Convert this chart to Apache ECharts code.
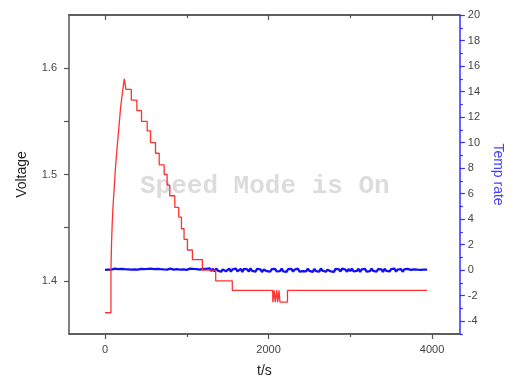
<!DOCTYPE html>
<html>
<head>
<meta charset="utf-8">
<script src="https://cdn.jsdelivr.net/npm/echarts@6/dist/echarts.min.js"></script>
<style>html,body{margin:0;padding:0;background:#fff}#c{width:513px;height:384px}</style>
</head>
<body>
<div id="c"></div>
<script>
// Voltage (step trace): time in s, voltage in V (each value holds until next time)
var voltTimes = [0, 73, 80, 89, 100, 115, 130, 150, 171, 191, 215, 236, 256, 322, 390, 447, 516, 557, 618, 663, 724, 760, 793, 854, 902, 935, 967, 1008, 1069, 1191, 1354, 1557, 2052, 2068, 2082, 2100, 2112, 2128, 2140, 2232, 3940];
var voltValues = [1.370, 1.410, 1.435, 1.455, 1.472, 1.490, 1.508, 1.527, 1.545, 1.563, 1.578, 1.590, 1.580, 1.570, 1.560, 1.550, 1.541, 1.530, 1.520, 1.509, 1.500, 1.490, 1.480, 1.469, 1.460, 1.449, 1.439, 1.429, 1.420, 1.410, 1.400, 1.391, 1.380, 1.391, 1.380, 1.391, 1.380, 1.391, 1.380, 1.391, 1.391];

// Temp rate samples, one every 20 s starting at t = 0
var tempStart = 0, tempStep = 20;
var tempValues = [
  0.02, 0.08, 0.04, 0.10, 0.05, 0.07, 0.12, 0.04, 0.09, 0.06, 0.11, 0.05, 0.08, 0.13, 0.06, 0.09,
  0.04, 0.10, 0.07, 0.12, 0.05, 0.08, 0.11, 0.06, 0.09, 0.03, 0.10, 0.07, 0.12, 0.05, 0.09, 0.06,
  0.11, 0.04, 0.08, 0.13, 0.06, 0.10, 0.05, 0.09, 0.12, 0.07, 0.04, 0.10, 0.08, 0.13, 0.05, 0.09,
  0.06, 0.11, 0.03, 0.08, 0.12, 0.06, 0.10, 0.04, 0.09, 0.13, 0.05, 0.08, 0.11, 0.06, 0.10, 0.04,
  0.15, -0.06, 0.11, -0.10, 0.13, -0.03, 0.09, -0.12, 0.05, 0.15, -0.08, 0.02, 0.12, -0.11, 0.07, -0.04,
  0.13, -0.09, 0.03, 0.10, -0.13, 0.11, -0.02, 0.06, -0.10, 0.14, -0.06, 0.03, -0.12, 0.10, -0.01, 0.07,
  -0.14, 0.05, 0.12, -0.08, 0.01, -0.12, 0.09, -0.05, 0.11, -0.10, 0.04, -0.07, 0.13, -0.09, 0.02, -0.13,
  0.08, -0.03, 0.10, -0.11, 0.05, -0.06, 0.12, -0.12, 0.03, -0.08, 0.07, -0.10, 0.12, -0.05, 0.01, -0.13,
  0.09, -0.07, 0.06, -0.11, 0.14, -0.04, 0.08, -0.12, 0.04, 0.11, -0.09, 0.02, -0.13, 0.10, -0.05, 0.07,
  -0.10, 0.12, -0.03, 0.05, -0.12, 0.09, -0.07, 0.13, -0.10, 0.03, -0.06, 0.11, -0.13, 0.06, -0.02, 0.10,
  -0.11, 0.04, -0.08, 0.12, -0.06, 0.02, -0.12, 0.09, -0.04, 0.07, -0.13, 0.11, -0.05, 0.03, -0.10, 0.08,
  -0.07, 0.12, -0.11, 0.05, -0.03, 0.09, -0.12, 0.06, -0.08, 0.10, -0.05, 0.02, -0.11, 0.07, -0.04, 0.04,
  -0.06, 0.03, -0.05, 0.05, -0.03, 0.04];

// Axis tick values / labels
var xMajor = [0, 2000, 4000];
var xMinor = [1000, 3000];
var vTicks = [1.4, 1.45, 1.5, 1.55, 1.6];
var vLabels = [1.4, 1.5, 1.6];
var rMajor = [-4, -2, 0, 2, 4, 6, 8, 10, 12, 14, 16, 18, 20];
var rMinor = [-5, -3, -1, 1, 3, 5, 7, 9, 11, 13, 15, 17, 19];

var voltData = voltTimes.map(function (t, i) { return [t, voltValues[i]]; });
var tempData = tempValues.map(function (v, i) { return [tempStart + i * tempStep, v]; });

var gray = '#555';
var labelColor = '#444';
var blue = '#3333ff';
var font = 'Liberation Sans, Arial, sans-serif';

function xAx(pos, ticks, len, inside, labels, name) {
  return {
    type: 'value', position: pos, min: -440, max: 4340,
    name: name || '', nameLocation: 'middle', nameGap: 30,
    nameTextStyle: { fontFamily: font, fontSize: 14, color: '#222' },
    axisLine: { show: true, onZero: false, lineStyle: { color: gray, width: 1.5 } },
    axisTick: { show: true, inside: inside, length: len, customValues: ticks, lineStyle: { color: gray, width: 1.2 } },
    axisLabel: labels ? { show: true, customValues: labels, color: labelColor, fontSize: 11, fontFamily: font, margin: 10,
      formatter: function (v) { return String(v); } } : { show: false },
    splitLine: { show: false }
  };
}

var chart = echarts.init(document.getElementById('c'));
chart.setOption({
  animation: false,
  backgroundColor: '#fff',
  grid: { left: 69, right: 52, top: 15, bottom: 50 },
  xAxis: [
    xAx('bottom', xMajor, 5, false, xMajor, 't/s'),
    xAx('bottom', xMinor, 3, false, null),
    xAx('top', xMajor, 5, true, null),
    xAx('top', xMinor, 3, true, null)
  ],
  yAxis: [
    {
      type: 'value', position: 'left', min: 1.35, max: 1.65,
      name: 'Voltage', nameLocation: 'middle', nameGap: 40,
      nameTextStyle: { fontFamily: font, fontSize: 14, color: '#222' },
      axisLine: { show: true, onZero: false, lineStyle: { color: gray, width: 1.5 } },
      axisTick: { show: true, length: 5, customValues: vTicks, lineStyle: { color: gray, width: 1.2 } },
      axisLabel: { customValues: vLabels, color: labelColor, fontSize: 11, fontFamily: font, margin: 12,
        formatter: function (v) { return v.toFixed(1); } },
      splitLine: { show: false }
    },
    {
      type: 'value', position: 'right', min: -5, max: 20,
      name: 'Temp rate', nameLocation: 'middle', nameGap: 30, nameRotate: -90,
      nameTextStyle: { fontFamily: font, fontSize: 14, color: '#4444ff' },
      axisLine: { show: true, onZero: false, lineStyle: { color: blue, width: 1.5 } },
      axisTick: { show: true, length: 5, customValues: rMajor, lineStyle: { color: blue, width: 1.2 } },
      axisLabel: { customValues: rMajor, color: labelColor, fontSize: 11, fontFamily: font, margin: 8 },
      splitLine: { show: false }
    },
    {
      type: 'value', position: 'right', offset: 0, min: -5, max: 20,
      axisLine: { show: false, onZero: false },
      axisTick: { show: true, length: 3, customValues: rMinor, lineStyle: { color: blue, width: 1.2 } },
      axisLabel: { show: false },
      splitLine: { show: false }
    }
  ],
  graphic: [{
    type: 'text', left: 140, top: 173, z: 0,
    style: { text: 'Speed Mode is On', fill: '#dcdcdc', font: 'bold 26px "Liberation Mono", "Courier New", monospace' }
  }],
  series: [
    {
      name: 'Temp rate', type: 'line', xAxisIndex: 0, yAxisIndex: 1, data: tempData,
      showSymbol: false, lineStyle: { color: '#1010f5', width: 2.3 }, z: 3
    },
    {
      name: 'Voltage', type: 'line', xAxisIndex: 0, yAxisIndex: 0, data: voltData, step: 'end',
      showSymbol: false, lineStyle: { color: '#ff3030', width: 1.3 }, z: 4
    }
  ]
});
</script>
</body>
</html>
